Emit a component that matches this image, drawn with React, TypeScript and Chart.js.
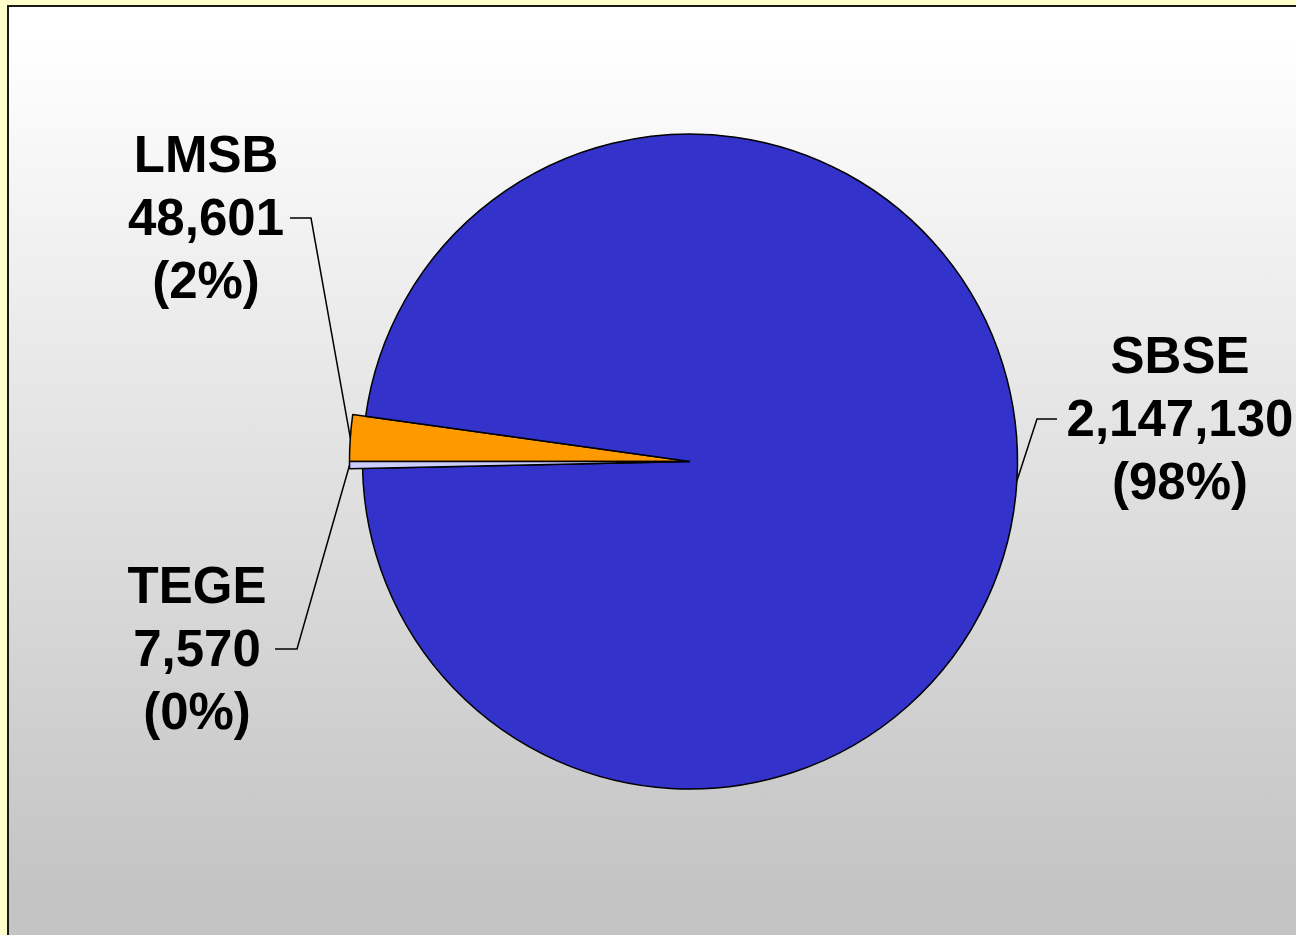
import React, { useEffect, useRef } from "react";
import { Chart, registerables } from "chart.js";

Chart.register(...registerables);

const categories = ["LMSB", "SBSE", "TEGE"];
const values = [48601, 2147130, 7570];
const percentLabels = ["(2%)", "(98%)", "(0%)"];
const sliceColors = ["#ff9900", "#3333cc", "#ccccff"];
const explodedExtra = [13, 0, 13];

// label placement (style): centre x of text block, first baseline, elbow x, end x of horizontal tick
const labelLayout = [
  { cx: 206, y0: 172, elbowX: 311, lineEndX: 290 },
  { cx: 1180, y0: 373, elbowX: 1037, lineEndX: 1057 },
  { cx: 197, y0: 603, elbowX: 297, lineEndX: 275 },
];

const FONT = 'bold 51px "Liberation Sans", Arial, sans-serif';
const LINE_H = 63;

const explodePlugin = {
  id: "explodeSlices",
  afterDatasetsUpdate(chart: any) {
    const meta = chart.getDatasetMeta(0);
    meta.data.forEach((el: any, i: number) => {
      el.outerRadius = el.outerRadius + (explodedExtra[i] || 0);
    });
  },
};

const labelPlugin = {
  id: "pieLabels",
  afterDatasetsDraw(chart: any) {
    const ctx = chart.ctx;
    const meta = chart.getDatasetMeta(0);
    ctx.save();
    meta.data.forEach((el: any, i: number) => {
      const lay = labelLayout[i];
      const mid = (el.startAngle + el.endAngle) / 2;
      const px = el.x + Math.cos(mid) * el.outerRadius;
      const py = el.y + Math.sin(mid) * el.outerRadius;
      const ly = lay.y0 + LINE_H - 17;
      ctx.strokeStyle = "#000";
      ctx.lineWidth = 1.5;
      ctx.beginPath();
      ctx.moveTo(lay.lineEndX, ly);
      ctx.lineTo(lay.elbowX, ly);
      ctx.lineTo(px, py);
      ctx.stroke();

      ctx.fillStyle = "#000";
      ctx.font = FONT;
      ctx.textAlign = "center";
      ctx.textBaseline = "alphabetic";
      const lines = [
        categories[i],
        values[i].toLocaleString("en-US"),
        percentLabels[i],
      ];
      lines.forEach((t, k) => ctx.fillText(t, lay.cx, lay.y0 + k * LINE_H));
    });
    ctx.restore();
  },
};

export default function App() {
  const ref = useRef<HTMLCanvasElement | null>(null);

  useEffect(() => {
    if (!ref.current) return;
    const chart = new Chart(ref.current, {
      type: "pie",
      data: {
        labels: categories,
        datasets: [
          {
            data: values,
            backgroundColor: sliceColors,
            borderColor: "#000000",
            borderWidth: 1.5,
          },
        ],
      },
      options: {
        animation: false,
        responsive: false,
        rotation: 270,
        radius: 327.5,
        layout: { padding: { left: 84, right: 0, top: 0, bottom: 12 } },
        plugins: {
          legend: { display: false },
          tooltip: { enabled: false },
        },
        events: [],
      } as any,
      plugins: [explodePlugin, labelPlugin],
    });
    return () => chart.destroy();
  }, []);

  return (
    <div
      style={{
        position: "absolute",
        left: 0,
        top: 0,
        width: 1296,
        height: 935,
        overflow: "hidden",
        background: "#ffffcc",
      }}
    >
      <div
        style={{
          position: "absolute",
          left: 7,
          top: 5,
          width: 1300,
          height: 940,
          borderLeft: "2px solid #1a1a1a",
          borderTop: "2px solid #1a1a1a",
          background:
            "linear-gradient(to bottom, #ffffff 0px, #ffffff 30px, #c4c4c4 880px, #c4c4c4 940px)",
        }}
      />
      <canvas
        ref={ref}
        width={1296}
        height={935}
        style={{ position: "absolute", left: 0, top: 0, width: 1296, height: 935 }}
      />
    </div>
  );
}
